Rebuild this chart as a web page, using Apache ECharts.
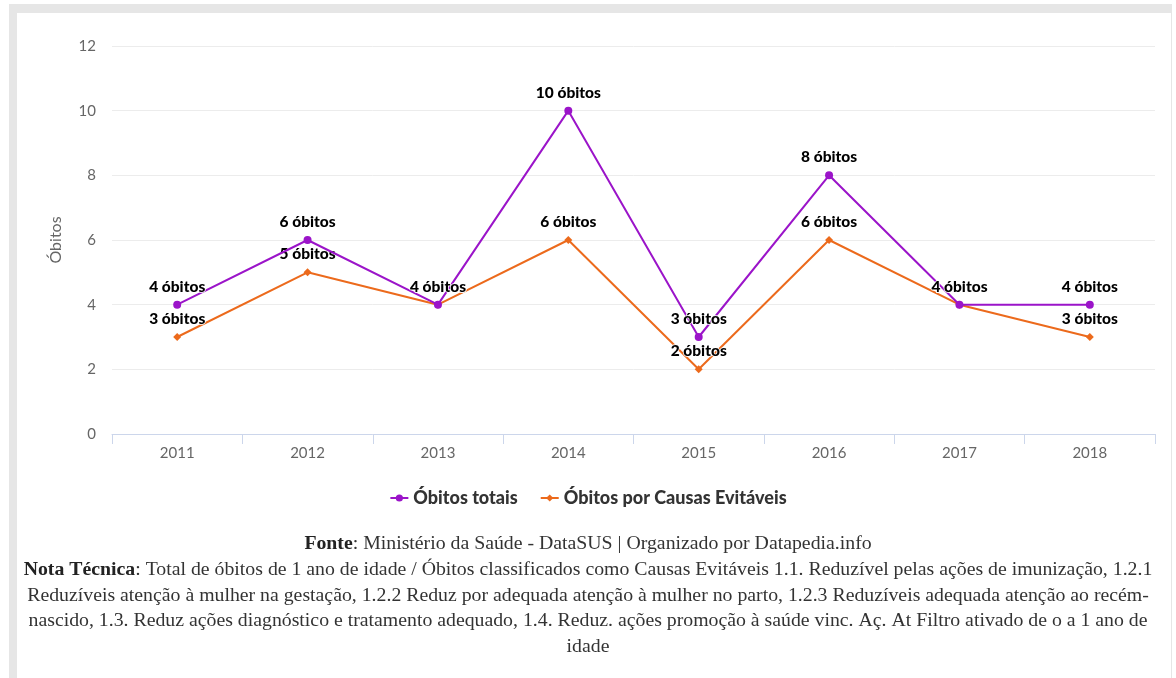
<!DOCTYPE html>
<html><head><meta charset="utf-8">
<script src="https://cdn.jsdelivr.net/npm/echarts@6/dist/echarts.min.js"></script>
<style>html,body{margin:0;padding:0;background:#fff}#c{width:1176px;height:678px}</style>
</head><body><div id="c"></div>
<script>
const categories = ['2011','2012','2013','2014','2015','2016','2017','2018'];
const totais = [4, 6, 4, 10, 3, 8, 4, 4];
const evitaveis = [3, 5, 4, 6, 2, 6, 4, 3];
const seriesNames = ['Óbitos totais', 'Óbitos por Causas Evitáveis'];
const yTicks = [0, 2, 4, 6, 8, 10, 12];
const yName = 'Óbitos';
const fonteLine = 'Ministério da Saúde - DataSUS | Organizado por Datapedia.info';
const notaLines = [
  'Total de óbitos de 1 ano de idade / Óbitos classificados como Causas Evitáveis 1.1. Reduzível pelas ações de imunização, 1.2.1',
  'Reduzíveis atenção à mulher na gestação, 1.2.2 Reduz por adequada atenção à mulher no parto, 1.2.3 Reduzíveis adequada atenção ao recém-',
  'nascido, 1.3. Reduz ações diagnóstico e tratamento adequado, 1.4. Reduz. ações promoção à saúde vinc. Aç. At Filtro ativado de o a 1 ano de',
  'idade'
];

const chart = echarts.init(document.getElementById('c'));
const labelStyle = {
  show: true, position: 'top', distance: 6,
  formatter: p => p.value + ' óbitos',
  fontFamily: 'Lato', fontWeight: 900, fontSize: 15.5, color: '#000',
  textBorderColor: '#fff', textBorderWidth: 1.5
};
const serifFont = '"Liberation Serif", "DejaVu Serif", serif';
const fs = 19.8;
const rich = {
  b: { fontFamily: serifFont, fontWeight: 'bold', fontSize: fs, fill: '#222' },
  n: { fontFamily: serifFont, fontSize: fs, fill: '#333' }
};
const footerTexts = ['{b|Fonte}{n|: ' + fonteLine + '}', '{b|Nota Técnica}{n|: ' + notaLines[0] + '}']
  .concat(notaLines.slice(1).map(l => '{n|' + l + '}'));
const footerGraphics = footerTexts.map((t, i) => ({
  type: 'text', x: 588, y: 544 + i * 25.7, style: { text: t, rich: rich, align: 'center', verticalAlign: 'middle' }
}));
chart.setOption({
  animation: false,
  textStyle: { fontFamily: 'Lato' },
  graphic: [
    { type: 'rect', shape: { x: 9, y: 4, width: 1163, height: 680 }, style: { fill: '#e6e6e6' }, z: -10 },
    { type: 'rect', shape: { x: 17, y: 13, width: 1154, height: 680 }, style: { fill: '#ffffff' }, z: -9 }
  ].concat(footerGraphics),
  grid: { left: 112, right: 21, top: 46, bottom: 244 },
  legend: {
    top: 484, left: 'center', itemGap: 22, itemWidth: 18, itemHeight: 9,
    textStyle: { fontFamily: 'Lato', fontWeight: 900, fontSize: 18, color: '#333' },
    data: seriesNames
  },
  xAxis: {
    type: 'category', data: categories, boundaryGap: true,
    axisLine: { lineStyle: { color: '#ccd6eb' } },
    axisTick: { show: true, length: 10, lineStyle: { color: '#ccd6eb' } },
    axisLabel: { color: '#666', fontSize: 15, margin: 12, fontFamily: 'Lato' }
  },
  yAxis: {
    type: 'value', min: 0, max: 12, interval: 2,
    name: yName, nameLocation: 'middle', nameGap: 48, nameRotate: 90,
    nameTextStyle: { color: '#666', fontSize: 16, fontFamily: 'Lato' },
    axisLine: { show: false }, axisTick: { show: false },
    axisLabel: { color: '#666', fontSize: 15, margin: 16, fontFamily: 'Lato',
      formatter: v => yTicks.includes(v) ? String(v) : '' },
    splitLine: { lineStyle: { color: '#ececec' } }
  },
  series: [
    { name: seriesNames[0], type: 'line', data: totais, color: '#9b14c9',
      symbol: 'circle', symbolSize: 8, lineStyle: { width: 2 }, label: labelStyle, z: 3 },
    { name: seriesNames[1], type: 'line', data: evitaveis, color: '#ec6a1c',
      symbol: 'diamond', symbolSize: 8, lineStyle: { width: 2 }, label: labelStyle, z: 2 }
  ]
});
</script></body></html>
